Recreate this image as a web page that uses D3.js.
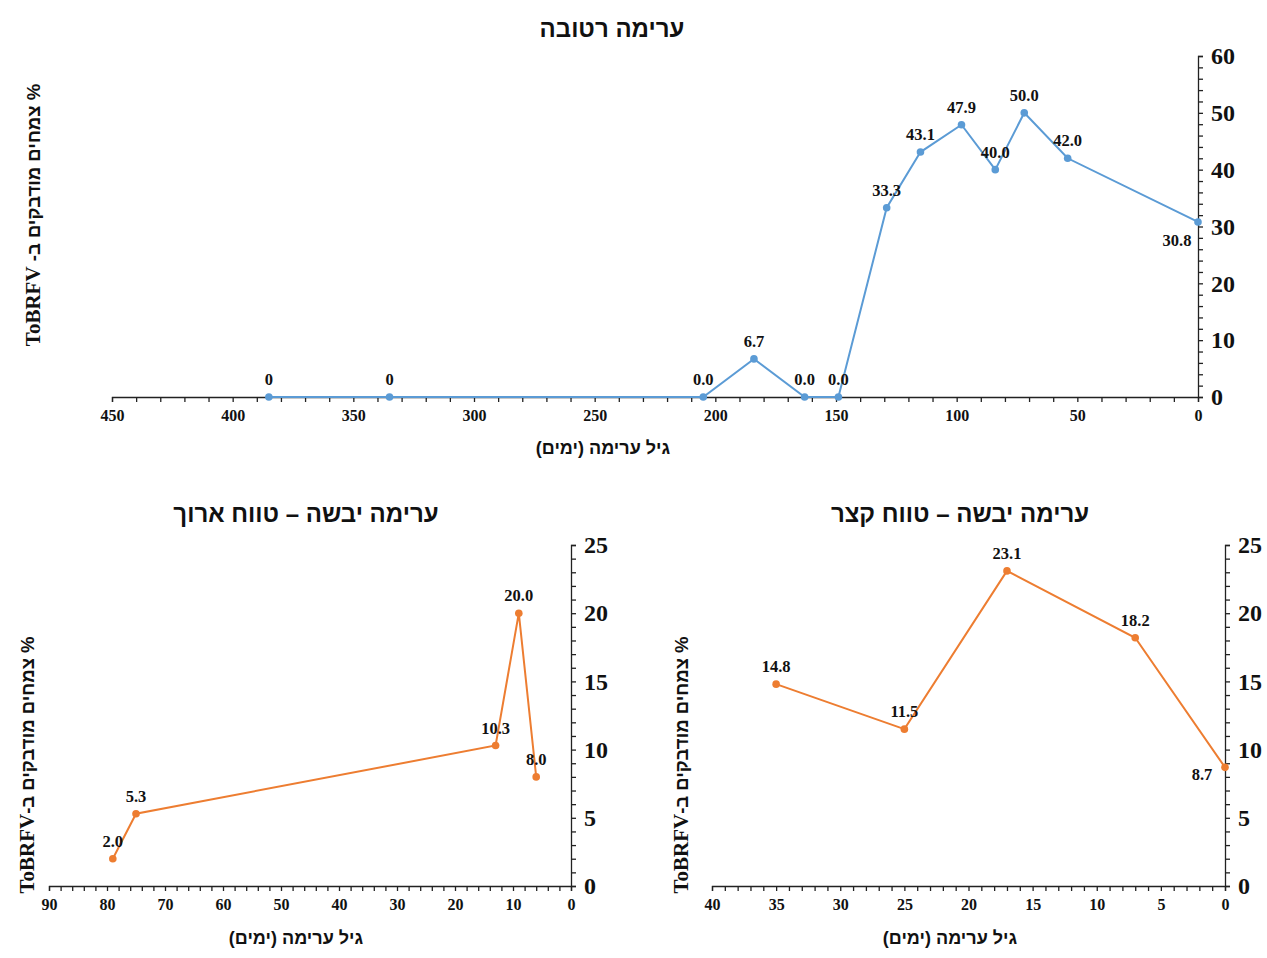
<!DOCTYPE html>
<html>
<head>
<meta charset="utf-8">
<script src="https://cdn.jsdelivr.net/npm/d3@7"></script>
<style>
  html, body { margin: 0; padding: 0; background: #fff; }
  svg text { font-family: "Liberation Serif", "Times New Roman", serif; font-weight: bold; fill: #111; }
  svg text.heb { font-family: "Liberation Sans", "Arial", sans-serif; }
  svg tspan.lat { font-family: "Liberation Serif", "Times New Roman", serif; }
</style>
</head>
<body>
<svg id="chart" width="1267" height="958"></svg>
<script>
// ---- Data ----
const wetAge = [385, 335, 205, 184, 163, 149, 129, 115, 98, 84, 72, 54, 0];
const wetValues = [0, 0, 0, 6.7, 0, 0, 33.3, 43.1, 47.9, 40.0, 50.0, 42.0, 30.8];
const wetLabels = ["0", "0", "0.0", "6.7", "0.0", "0.0", "33.3", "43.1", "47.9", "40.0", "50.0", "42.0", "30.8"];

const dryLongAge = [79, 75, 13, 9, 6];
const dryLongValues = [2.0, 5.3, 10.3, 20.0, 8.0];
const dryLongLabels = ["2.0", "5.3", "10.3", "20.0", "8.0"];

const dryShortAge = [35, 25, 17, 7, 0];
const dryShortValues = [14.8, 11.5, 23.1, 18.2, 8.7];
const dryShortLabels = ["14.8", "11.5", "23.1", "18.2", "8.7"];

const wetXTicks = [450, 400, 350, 300, 250, 200, 150, 100, 50, 0];
const wetYTicks = [0, 10, 20, 30, 40, 50, 60];
const dryLongXTicks = [90, 80, 70, 60, 50, 40, 30, 20, 10, 0];
const dryShortXTicks = [40, 35, 30, 25, 20, 15, 10, 5, 0];
const dryYTicks = [0, 5, 10, 15, 20, 25];

const titles = ["ערימה רטובה", "ערימה יבשה – טווח ארוך", "ערימה יבשה – טווח קצר"];
const xTitle = "גיל ערימה (ימים)";
const yTitleWetHeb = "% צמחים מודבקים ב- ";
const yTitleDryHeb = "% צמחים מודבקים ב-";
const yTitleLatin = "ToBRFV";

const BLUE = "#5B9BD5", ORANGE = "#ED7D31";

const svg = d3.select("#chart");

function drawChart(cfg) {
  const g = svg.append("g");
  const x = d3.scaleLinear().domain(cfg.xDomain).range([cfg.left, cfg.right]);
  const y = d3.scaleLinear().domain(cfg.yDomain).range([cfg.bottom, cfg.top]);

  const xMinor = d3.range(cfg.xDomain[1], cfg.xDomain[0] + 0.001, cfg.xMinorStep);
  g.append("g").attr("transform", `translate(0,${cfg.bottom})`)
    .call(d3.axisBottom(x).tickValues(xMinor).tickSize(5).tickFormat(""))
    .call(s => s.selectAll("path,line").attr("stroke", "#222").attr("stroke-width", 1.3));
  g.append("g").attr("transform", `translate(0,${cfg.bottom})`)
    .call(d3.axisBottom(x).tickValues(cfg.xTicks).tickSize(0).tickPadding(13).tickFormat(d3.format("d")))
    .call(s => s.select(".domain").remove())
    .call(s => s.selectAll("text").style("font-size", cfg.xFont + "px"));

  const yMinor = d3.range(cfg.yDomain[0], cfg.yDomain[1] + 0.001, cfg.yMinorStep);
  g.append("g").attr("transform", `translate(${cfg.right},0)`)
    .call(d3.axisRight(y).tickValues(yMinor).tickSize(5).tickFormat(""))
    .call(s => s.selectAll("path,line").attr("stroke", "#222").attr("stroke-width", 1.3));
  g.append("g").attr("transform", `translate(${cfg.right},0)`)
    .call(d3.axisRight(y).tickValues(cfg.yTicks).tickSize(0).tickPadding(cfg.yPad).tickFormat(d3.format("d")))
    .call(s => s.select(".domain").remove())
    .call(s => s.selectAll("text").style("font-size", cfg.yFont + "px"));

  const pts = cfg.ages.map((a, i) => ({ a, v: cfg.values[i], l: cfg.labels[i] }));
  g.append("path").datum(pts)
    .attr("fill", "none").attr("stroke", cfg.color).attr("stroke-width", 2)
    .attr("d", d3.line().x(d => x(d.a)).y(d => y(d.v)));
  g.selectAll("circle.pt").data(pts).enter().append("circle")
    .attr("cx", d => x(d.a)).attr("cy", d => y(d.v)).attr("r", 3.8).attr("fill", cfg.color);
  g.selectAll("text.lbl").data(pts).enter().append("text")
    .attr("x", (d, i) => x(d.a) + (cfg.labelOffsets[i] ? cfg.labelOffsets[i][0] : 0))
    .attr("y", (d, i) => y(d.v) + (cfg.labelOffsets[i] ? cfg.labelOffsets[i][1] : -12))
    .attr("text-anchor", "middle").style("font-size", "16.5px").text(d => d.l);

  g.append("text").attr("class", "heb").attr("x", cfg.titleX).attr("y", cfg.titleY).attr("text-anchor", "middle")
    .attr("direction", "rtl").style("font-size", "24px").text(cfg.title);
  g.append("text").attr("class", "heb").attr("x", cfg.xTitleX).attr("y", cfg.xTitleY).attr("text-anchor", "middle")
    .attr("direction", "rtl").style("font-size", "18px").text(xTitle);
  const yt = g.append("text").attr("class", "heb").attr("transform", `translate(${cfg.yTitleX},${cfg.yTitleY}) rotate(-90)`)
    .attr("text-anchor", "middle").attr("direction", "rtl").style("font-size", "18.5px");
  yt.append("tspan").text(cfg.yTitleHeb);
  yt.append("tspan").attr("class", "lat").style("font-size", "21px").text(yTitleLatin);
}

drawChart({
  xDomain: [450, 0], yDomain: [0, 60], left: 112, right: 1198, top: 56, bottom: 397,
  xTicks: wetXTicks, yTicks: wetYTicks, xMinorStep: 10, yMinorStep: 2, xFont: 16, yFont: 24, yPad: 13,
  ages: wetAge, values: wetValues, labels: wetLabels, color: BLUE,
  labelOffsets: { 12: [-21, 24] },
  title: titles[0], titleX: 612, titleY: 37, xTitleX: 603, xTitleY: 454,
  yTitleHeb: yTitleWetHeb, yTitleX: 40, yTitleY: 215
});

drawChart({
  xDomain: [90, 0], yDomain: [0, 25], left: 49, right: 571, top: 545, bottom: 886,
  xTicks: dryLongXTicks, yTicks: dryYTicks, xMinorStep: 2, yMinorStep: 1, xFont: 16, yFont: 24, yPad: 13,
  ages: dryLongAge, values: dryLongValues, labels: dryLongLabels, color: ORANGE,
  labelOffsets: {},
  title: titles[1], titleX: 306, titleY: 522, xTitleX: 296, xTitleY: 944,
  yTitleHeb: yTitleDryHeb, yTitleX: 34, yTitleY: 765
});

drawChart({
  xDomain: [40, 0], yDomain: [0, 25], left: 712, right: 1225, top: 545, bottom: 886,
  xTicks: dryShortXTicks, yTicks: dryYTicks, xMinorStep: 1, yMinorStep: 1, xFont: 16, yFont: 24, yPad: 13,
  ages: dryShortAge, values: dryShortValues, labels: dryShortLabels, color: ORANGE,
  labelOffsets: { 4: [-23, 13] },
  title: titles[2], titleX: 960, titleY: 522, xTitleX: 950, xTitleY: 944,
  yTitleHeb: yTitleDryHeb, yTitleX: 688, yTitleY: 765
});
</script>
</body>
</html>
